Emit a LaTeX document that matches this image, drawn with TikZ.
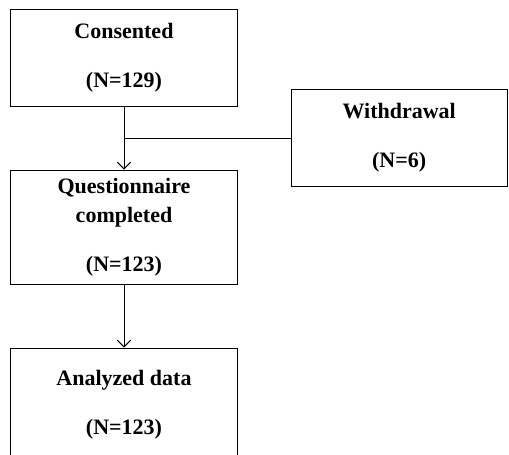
\documentclass[tikz,border=0pt]{standalone}
\usepackage{fontspec}
\setmainfont{Liberation Serif}
\usetikzlibrary{positioning, arrows.meta}

\begin{document}
\begin{tikzpicture}[
		box/.style={rectangle, draw, line width=0.75pt, align=center, inner sep=2pt, minimum width=169.5pt, font=\bfseries\fontsize{16.5}{21.75}\selectfont},
		shortbox/.style={box, minimum height=72.75pt},
		tallbox/.style={box, minimum height=85.5pt},
		flow/.style={line width=0.75pt},
		>={Straight Barb[length=5pt, width=10pt]}
	]

	\useasboundingbox (-93pt,43.125pt) rectangle (288.75pt,-297.375pt);

	\node[shortbox] (consent) at (0,0) {Consented\\[15pt](N=129)};
	\node[tallbox, below=47.25pt of consent] (quest) {Questionnaire\\completed\\[15pt](N=123)};
	\node[tallbox, below=47.25pt of quest] (analyzed) {Analyzed data\\[15pt](N=123)};
	\path (consent.south) -- (quest.north) coordinate[midway] (split);
	\node[shortbox, minimum width=162pt, right=125pt of split] (withdraw) {Withdrawal\\[15pt](N=6)};

	\foreach \i/\j in {consent/quest, quest/analyzed}
		\draw[flow, ->] (\i) -- (\j);

	\draw[flow] (withdraw.west) -- (split);

\end{tikzpicture}
\end{document}
